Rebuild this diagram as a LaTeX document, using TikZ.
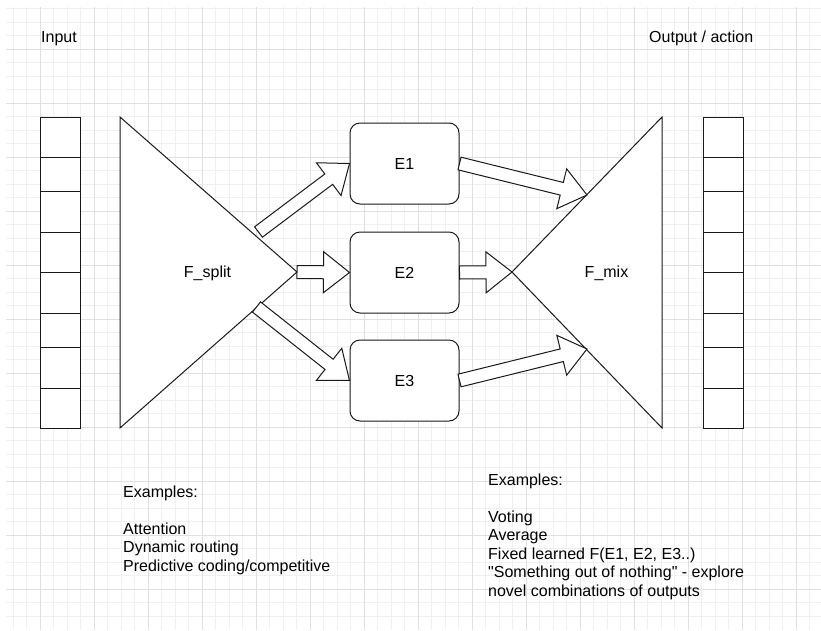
\documentclass[tikz,border=0pt]{standalone}
\usepackage{fontspec}
\setmainfont{Liberation Sans}
\usetikzlibrary{calc}

\tikzset{
  minorline/.style={black!6, line width=0.8pt},
  majorline/.style={black!12, line width=1pt},
  shapeline/.style={draw=black!90, line width=1pt, fill=white},
  txt/.style={font=\fontsize{16}{18.5}\selectfont, inner sep=0pt},
  expert/.style={shapeline, txt, rounded corners=10pt, minimum width=109pt, minimum height=81pt},
  fatline/.style={shapeline, line join=miter},
}

% block arrow from #1 to #2
\newcommand{\fatarrow}[2]{%
  \draw[fatline] let \p1=(#1), \p2=(#2),
    \n1={atan2(\y2-\y1,\x2-\x1)}, \n2={veclen(\x2-\x1,\y2-\y1)} in
    [shift={(\p1)}, rotate=\n1]
    (0,-6.5) -- ({\n2-26},-6.5) -- ({\n2-26},-20.5) -- (\n2,0)
    -- ({\n2-26},20.5) -- ({\n2-26},6.5) -- (0,6.5) -- cycle;}

\begin{document}
\begin{tikzpicture}[x=1pt, y=-1pt]
  % Paper and grid
  \useasboundingbox (0,0) rectangle (821,630);
  \fill[white] (0,0) rectangle (821,630);
  \foreach \i in {0,...,59} \draw[minorline] ({13+13.5*\i},7) -- ({13+13.5*\i},630);
  \foreach \i in {0,...,45} \draw[minorline] (6,{8.5+13.5*\i}) -- (821,{8.5+13.5*\i});
  \foreach \i in {0,...,14} \draw[majorline] ({40+54*\i},7) -- ({40+54*\i},630);
  \foreach \i in {0,...,10} \draw[majorline] (6,{49+54*\i}) -- (821,{49+54*\i});

  % Input and output vectors
  \foreach \ya/\yb in {117/157,157/191,191/232,232/272,272/313,313/347,347/388,388/428} {
    \draw[shapeline] (40,\ya) rectangle (80,\yb);
    \draw[shapeline] (703,\ya) rectangle (743,\yb);
  }
  \node[txt, anchor=base west] (in) at (41,42) {Input};
  \node[txt, anchor=base west] (out) at (649,42) {Output / action};

  % Splitter and mixer
  \coordinate (split-tip) at (297,272);
  \coordinate (mix-tip) at (512,272);
  \draw[shapeline, line join=miter] (120,117) -- (split-tip) -- (120,428) -- cycle;
  \draw[shapeline, line join=miter] (662,117) -- (mix-tip) -- (662,428) -- cycle;
  \node[txt, anchor=base] (split) at (207.5,277) {F\_split};
  \node[txt, anchor=base] (mix) at (606.5,277) {F\_mix};

  % Experts
  \node[expert] (e1) at (404.5,163.5) {E1};
  \node[expert] (e2) at (404.5,272.5) {E2};
  \node[expert] (e3) at (404.5,380.5) {E3};

  % Arrows
  \coordinate (s1) at (258.5,232);
  \coordinate (s3) at (256.5,307);
  \coordinate (m1) at (587,195);
  \coordinate (m3) at (587,349);
  \fatarrow{s1}{e1.west}
  \fatarrow{split-tip}{e2.west}
  \fatarrow{s3}{e3.west}
  \fatarrow{e1.east}{m1}
  \fatarrow{e2.east}{mix-tip}
  \fatarrow{e3.east}{m3}

  % Examples
  \node[txt, anchor=north west, align=left] (ex-split) at (123,485.5)
    {Examples:\\[18.5pt]Attention\\Dynamic routing\\Predictive coding/competitive};
  \node[txt, anchor=north west, align=left] (ex-mix) at (488,473.5)
    {Examples:\\[18.5pt]Voting\\Average\\Fixed learned F(E1, E2, E3..)\\
     \textquotedbl Something out of nothing\textquotedbl{} - explore\\novel combinations of outputs};
\end{tikzpicture}
\end{document}
